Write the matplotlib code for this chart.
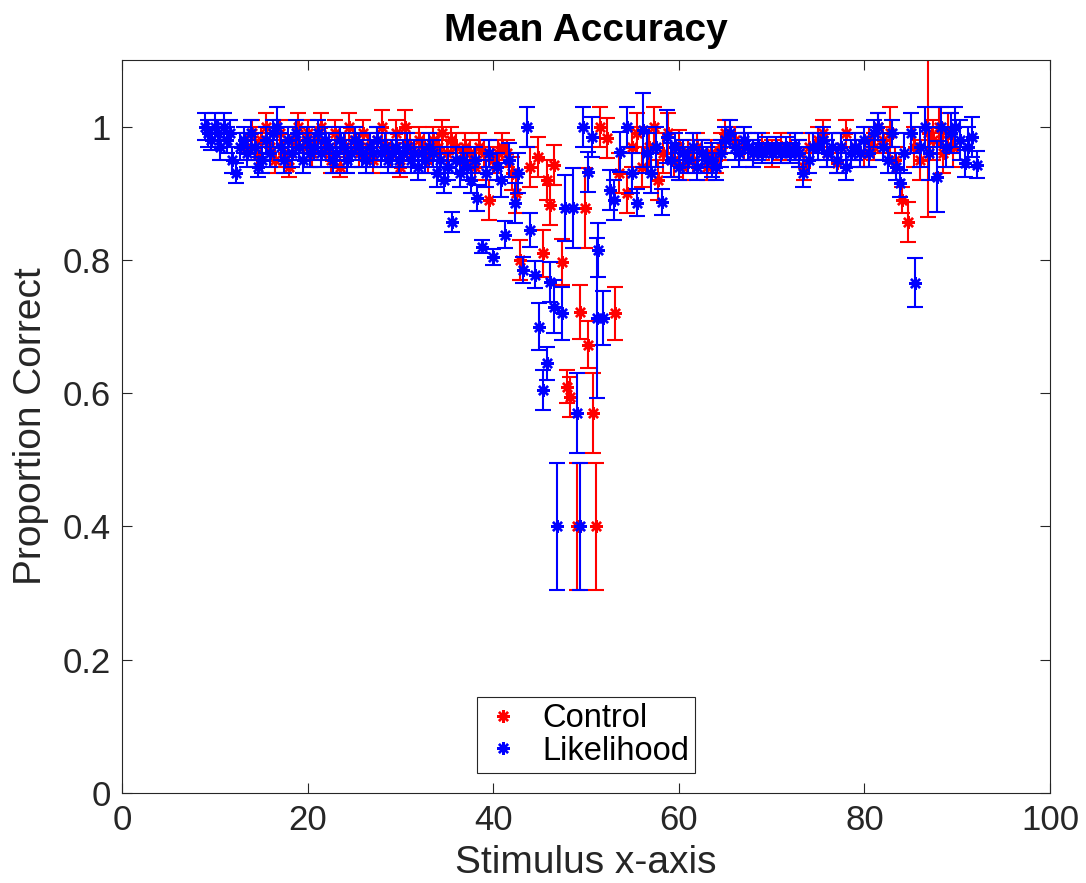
import matplotlib
matplotlib.use("Agg")
import matplotlib.pyplot as plt
from matplotlib.lines import Line2D

# --- Control (red) ---
ctrl_x = [13.5, 14.0, 14.5, 15.0, 15.5, 16.0, 16.5, 17.0, 17.5, 18.0, 18.5, 19.0,
          19.5, 20.0, 20.5, 21.0, 21.5, 22.0, 22.5, 23.0, 23.5, 24.0, 24.5, 25.0,
          25.5, 26.0, 26.5, 27.0, 27.5, 28.0, 28.5, 29.0, 29.5, 30.0, 30.5, 31.0,
          31.5, 32.0, 32.5, 33.0, 33.5, 34.0, 34.5, 35.0, 35.5, 36.0, 36.5, 37.0,
          37.5, 38.0, 38.5, 39.0, 39.5, 40.0, 40.5, 41.0, 41.5, 42.0, 42.5, 42.9,
          44.0, 44.8, 45.4, 45.8, 46.1, 46.5, 47.4, 47.9, 48.3, 49.0, 49.4, 49.9,
          50.2, 50.7, 51.1, 51.5, 52.3, 53.1, 53.6, 54.4, 55.0, 55.5, 56.0, 56.8,
          57.3, 57.8, 58.3, 58.8, 59.5, 60.0, 60.5, 61.0, 61.5, 62.0, 62.5, 63.0,
          63.5, 64.0, 64.5, 65.0, 66.0, 67.0, 68.0, 69.0, 70.0, 71.0, 72.0, 73.0,
          73.5, 74.0, 75.0, 75.5, 76.0, 77.0, 77.5, 78.0, 79.0, 80.0, 80.5, 81.0,
          81.5, 82.0, 82.8, 83.3, 84.0, 84.7, 85.3, 86.0, 86.9, 87.4, 88.0, 88.5,
          89.0, 89.5]
ctrl_y = [0.97, 0.99, 0.96, 0.98, 1.00, 0.97, 0.95, 0.99, 0.96, 0.94, 0.98, 1.00,
          0.97, 0.99, 0.96, 0.98, 1.00, 0.97, 0.95, 0.99, 0.94, 0.97, 1.00, 0.98,
          0.96, 0.99, 0.97, 0.95, 0.98, 1.00, 0.97, 0.96, 0.99, 0.94, 1.00, 0.97,
          0.96, 0.98, 0.97, 0.95, 0.98, 0.97, 0.99, 0.96, 0.98, 0.97, 0.95, 0.97,
          0.96, 0.94, 0.97, 0.96, 0.89, 0.95, 0.96, 0.97, 0.96, 0.93, 0.90, 0.80,
          0.94, 0.955, 0.81, 0.92, 0.883, 0.943, 0.797, 0.61, 0.595, 0.40, 0.722, 0.878,
          0.673, 0.57, 0.40, 1.00, 0.983, 0.72, 0.93, 0.90, 0.97, 0.99, 0.94, 0.97,
          1.00, 0.92, 0.96, 0.99, 0.95, 0.97, 0.94, 0.96, 0.95, 0.97, 0.96, 0.94,
          0.96, 0.95, 0.97, 0.99, 0.98, 0.97, 0.96, 0.97, 0.96, 0.97, 0.97, 0.96,
          0.94, 0.97, 0.98, 0.99, 0.96, 0.945, 0.97, 0.99, 0.97, 0.96, 0.98, 0.97,
          1.00, 0.98, 0.99, 0.95, 0.89, 0.857, 0.97, 0.95, 0.99, 0.98, 1.00, 0.96,
          0.99, 0.97]
ctrl_err = [0.02, 0.02, 0.02, 0.02, 0.02, 0.02, 0.02, 0.02, 0.02, 0.015, 0.02, 0.02,
            0.02, 0.02, 0.02, 0.02, 0.02, 0.02, 0.02, 0.02, 0.015, 0.02, 0.02, 0.02,
            0.02, 0.02, 0.02, 0.02, 0.02, 0.025, 0.02, 0.02, 0.02, 0.015, 0.025, 0.02,
            0.02, 0.02, 0.02, 0.02, 0.02, 0.02, 0.02, 0.02, 0.02, 0.02, 0.02, 0.02,
            0.02, 0.02, 0.02, 0.02, 0.03, 0.02, 0.02, 0.02, 0.02, 0.025, 0.03, 0.03,
            0.03, 0.03, 0.035, 0.03, 0.03, 0.03, 0.035, 0.025, 0.03, 0.096, 0.04, 0.06,
            0.035, 0.06, 0.096, 0.03, 0.03, 0.04, 0.03, 0.03, 0.03, 0.03, 0.03, 0.03,
            0.03, 0.03, 0.03, 0.03, 0.025, 0.025, 0.02, 0.02, 0.02, 0.02, 0.02, 0.02,
            0.02, 0.02, 0.02, 0.02, 0.02, 0.02, 0.02, 0.02, 0.02, 0.02, 0.02, 0.02,
            0.02, 0.02, 0.02, 0.02, 0.02, 0.015, 0.02, 0.02, 0.02, 0.02, 0.02, 0.02,
            0.02, 0.02, 0.04, 0.02, 0.02, 0.03, 0.03, 0.03, 0.125, 0.03, 0.03, 0.03,
            0.03, 0.03]

# --- Likelihood (blue) ---
lik_x = [9.0, 9.3, 9.6, 10.0, 10.3, 10.6, 11.0, 11.3, 11.6, 11.9, 12.3, 12.7,
         13.1, 13.5, 13.9, 14.3, 14.7, 15.1, 15.5, 15.9, 16.3, 16.7, 17.1, 17.5,
         17.9, 18.3, 18.7, 19.1, 19.5, 19.9, 20.3, 20.7, 21.1, 21.5, 21.9, 22.3,
         22.7, 23.1, 23.5, 23.9, 24.3, 24.7, 25.1, 25.5, 25.9, 26.3, 26.7, 27.1,
         27.5, 27.9, 28.3, 28.7, 29.1, 29.5, 29.9, 30.3, 30.7, 31.1, 31.5, 31.9,
         32.3, 32.7, 33.1, 33.5, 33.9, 34.3, 34.7, 35.1, 35.6, 36.0, 36.4, 36.8,
         37.2, 37.6, 38.0, 38.3, 38.8, 39.2, 39.6, 40.0, 40.4, 40.8, 41.3, 41.7,
         42.3, 42.7, 43.2, 43.6, 44.0, 44.5, 44.9, 45.4, 45.8, 46.1, 46.5, 46.9,
         47.4, 47.7, 48.6, 49.0, 49.4, 49.7, 50.2, 50.6, 51.2, 51.3, 51.8, 52.6,
         53.0, 53.7, 54.4, 55.0, 55.5, 56.1, 56.6, 57.0, 57.5, 58.2, 58.7, 59.2,
         59.6, 60.0, 60.5, 61.0, 61.5, 62.0, 62.5, 63.0, 63.6, 64.0, 64.5, 65.0,
         65.5, 66.0, 66.5, 67.0, 67.5, 68.0, 68.5, 69.0, 69.5, 70.0, 70.5, 71.0,
         71.5, 72.0, 72.5, 73.0, 73.4, 74.0, 74.5, 75.0, 75.5, 76.0, 76.5, 77.0,
         77.5, 78.0, 78.5, 79.0, 79.5, 80.0, 80.5, 81.0, 81.5, 82.0, 82.5, 83.0,
         83.4, 83.8, 84.3, 85.0, 85.5, 86.0, 86.5, 87.0, 87.8, 88.3, 88.8, 89.3,
         89.8, 90.3, 90.8, 91.2, 91.6, 92.1]
lik_y = [1.00, 0.99, 0.98, 1.00, 0.99, 0.97, 1.00, 0.98, 0.99, 0.95, 0.93, 0.97,
         0.98, 0.96, 0.99, 0.97, 0.94, 0.95, 0.98, 0.96, 0.99, 1.00, 0.97, 0.95,
         0.98, 0.96, 0.99, 0.97, 0.95, 0.98, 0.96, 0.97, 0.99, 0.96, 0.98, 0.97,
         0.95, 0.96, 0.98, 0.97, 0.95, 0.96, 0.98, 0.97, 0.96, 0.95, 0.97, 0.96,
         0.98, 0.96, 0.97, 0.95, 0.96, 0.97, 0.95, 0.96, 0.97, 0.95, 0.96, 0.94,
         0.96, 0.95, 0.97, 0.96, 0.93, 0.95, 0.92, 0.94, 0.857, 0.95, 0.93, 0.95,
         0.94, 0.92, 0.95, 0.893, 0.82, 0.93, 0.96, 0.805, 0.94, 0.92, 0.838, 0.95,
         0.886, 0.93, 0.785, 1.00, 0.845, 0.778, 0.70, 0.605, 0.645, 0.767, 0.73, 0.40,
         0.72, 0.878, 0.878, 0.57, 0.40, 1.00, 0.932, 0.985, 0.713, 0.815, 0.713, 0.905,
         0.89, 0.962, 1.00, 0.93, 0.886, 0.995, 0.96, 0.93, 0.97, 0.887, 0.985, 0.95,
         0.97, 0.94, 0.96, 0.95, 0.97, 0.94, 0.96, 0.95, 0.95, 0.94, 0.96, 0.98,
         0.99, 0.97, 0.96, 0.98, 0.97, 0.96, 0.97, 0.96, 0.97, 0.96, 0.97, 0.96,
         0.97, 0.96, 0.97, 0.96, 0.93, 0.95, 0.97, 0.97, 0.98, 0.96, 0.97, 0.95,
         0.97, 0.94, 0.96, 0.97, 0.96, 0.98, 0.96, 0.99, 1.00, 0.97, 0.95, 0.99,
         0.94, 0.915, 0.96, 0.99, 0.766, 0.97, 1.00, 0.96, 0.925, 1.00, 0.97, 0.99,
         1.00, 0.98, 0.945, 0.97, 0.985, 0.943]
lik_err = [0.02, 0.02, 0.015, 0.02, 0.02, 0.02, 0.02, 0.02, 0.02, 0.02, 0.015, 0.02,
           0.02, 0.02, 0.02, 0.02, 0.015, 0.02, 0.02, 0.02, 0.02, 0.03, 0.02, 0.02,
           0.02, 0.02, 0.02, 0.02, 0.02, 0.02, 0.02, 0.02, 0.02, 0.02, 0.02, 0.02,
           0.02, 0.02, 0.02, 0.02, 0.02, 0.02, 0.02, 0.02, 0.02, 0.02, 0.02, 0.02,
           0.02, 0.02, 0.02, 0.02, 0.02, 0.02, 0.02, 0.02, 0.02, 0.02, 0.02, 0.02,
           0.02, 0.02, 0.02, 0.02, 0.02, 0.02, 0.02, 0.02, 0.015, 0.02, 0.02, 0.02,
           0.02, 0.02, 0.02, 0.02, 0.01, 0.02, 0.02, 0.012, 0.02, 0.025, 0.02, 0.025,
           0.03, 0.03, 0.02, 0.03, 0.025, 0.02, 0.035, 0.03, 0.025, 0.03, 0.04, 0.095,
           0.04, 0.05, 0.06, 0.06, 0.095, 0.03, 0.03, 0.03, 0.12, 0.04, 0.04, 0.03,
           0.03, 0.03, 0.03, 0.03, 0.02, 0.055, 0.03, 0.03, 0.03, 0.02, 0.04, 0.025,
           0.02, 0.02, 0.02, 0.02, 0.02, 0.02, 0.02, 0.02, 0.025, 0.02, 0.02, 0.02,
           0.02, 0.02, 0.02, 0.02, 0.02, 0.02, 0.02, 0.015, 0.015, 0.015, 0.015, 0.015,
           0.015, 0.015, 0.02, 0.02, 0.02, 0.02, 0.02, 0.02, 0.02, 0.02, 0.02, 0.02,
           0.02, 0.02, 0.02, 0.02, 0.02, 0.02, 0.02, 0.02, 0.02, 0.02, 0.02, 0.02,
           0.02, 0.02, 0.03, 0.03, 0.037, 0.03, 0.03, 0.04, 0.053, 0.03, 0.03, 0.03,
           0.03, 0.03, 0.02, 0.03, 0.03, 0.02]

RED = (1, 0, 0)
BLUE = (0, 0, 1)
AX_COL = "#262626"
ASTER = (8, 2, 0)  # matlab-like asterisk

plt.rcParams.update({
    "font.family": ["Liberation Sans", "DejaVu Sans"],
    "axes.edgecolor": AX_COL,
    "axes.linewidth": 0.8,
    "xtick.color": AX_COL,
    "ytick.color": AX_COL,
})

fig = plt.figure(figsize=(10.86, 8.83), dpi=100)
ax = fig.add_axes([0.1123, 0.1019, 0.8546, 0.8301])

common = dict(fmt="none", elinewidth=1.5, capsize=5.5, capthick=1.5)
mk = dict(ls="none", marker=ASTER, ms=9, mew=1.7)
ax.errorbar(ctrl_x, ctrl_y, yerr=ctrl_err, ecolor=RED, **common)
ax.plot(ctrl_x, ctrl_y, color=RED, **mk)
ax.errorbar(lik_x, lik_y, yerr=lik_err, ecolor=BLUE, **common)
ax.plot(lik_x, lik_y, color=BLUE, **mk)

ax.set_xlim(0, 100)
ax.set_ylim(0, 1.1)
ax.set_xticks([0, 20, 40, 60, 80, 100])
ax.set_yticks([0, 0.2, 0.4, 0.6, 0.8, 1.0])
ax.set_yticklabels(["0", "0.2", "0.4", "0.6", "0.8", "1"])
ax.tick_params(direction="in", length=7, width=0.8, top=True, right=True,
               labelsize=25, labelcolor=AX_COL, pad=8)

ax.set_xlabel("Stimulus x-axis", fontsize=28, color=AX_COL, labelpad=6)
ax.set_ylabel("Proportion Correct", fontsize=28, color=AX_COL, labelpad=10)
ax.set_title("Mean Accuracy", fontsize=28, fontweight="bold", color="black", pad=14)

handles = [
    Line2D([], [], color=RED, **mk),
    Line2D([], [], color=BLUE, **mk),
]
leg = ax.legend(handles, ["Control", "Likelihood"], loc="lower center",
                fontsize=23.5, frameon=True, fancybox=False, framealpha=1,
                edgecolor=AX_COL, handlelength=1.2, handletextpad=0.6,
                borderpad=0.2, labelspacing=0.05, borderaxespad=0.6)
leg.get_frame().set_linewidth(0.8)

fig.savefig("out.png", dpi=100)
